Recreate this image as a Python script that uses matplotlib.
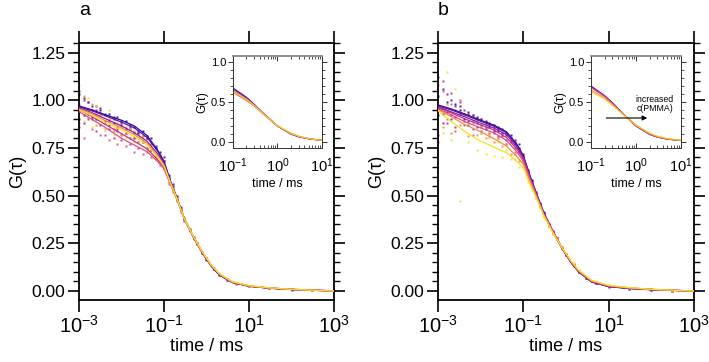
import numpy as np
import matplotlib.pyplot as plt
from matplotlib.ticker import LogLocator, LogFormatterMathtext, MultipleLocator, NullFormatter

plt.rcParams['font.family'] = ['Liberation Sans', 'DejaVu Sans']
plt.rcParams['mathtext.fontset'] = 'custom'
plt.rcParams['mathtext.rm'] = 'Liberation Sans'
plt.rcParams['mathtext.it'] = 'Liberation Sans:italic'

colors = ["#1f0c9c", "#5a0fa6", "#8e1fa0", "#c0308a", "#e0507a", "#f58a45", "#f8e11c"]

# fitted curves, main panels
fit_tau = [1e-3, 2e-3, 4e-3, 1e-2, 2e-2, 4e-2, 7e-2, 0.1, 0.14, 0.2, 0.3, 0.5,
           0.8, 1.3, 2, 4, 10, 30, 100, 1000]
fit_a = [
    [0.97, 0.95, 0.925, 0.895, 0.865, 0.815, 0.74, 0.68, 0.58, 0.49, 0.38, 0.28, 0.20, 0.13, 0.085, 0.045, 0.025, 0.015, 0.008, 0.0],
    [0.965, 0.945, 0.92, 0.885, 0.855, 0.805, 0.735, 0.675, 0.578, 0.49, 0.38, 0.28, 0.20, 0.13, 0.085, 0.045, 0.025, 0.015, 0.008, 0.0],
    [0.96, 0.935, 0.905, 0.865, 0.83, 0.785, 0.72, 0.665, 0.575, 0.488, 0.38, 0.28, 0.20, 0.132, 0.087, 0.046, 0.026, 0.015, 0.008, 0.001],
    [0.95, 0.915, 0.875, 0.825, 0.785, 0.745, 0.69, 0.65, 0.568, 0.485, 0.378, 0.28, 0.202, 0.133, 0.088, 0.047, 0.026, 0.016, 0.009, 0.001],
    [0.94, 0.90, 0.86, 0.80, 0.765, 0.73, 0.68, 0.64, 0.563, 0.482, 0.377, 0.28, 0.203, 0.135, 0.09, 0.048, 0.027, 0.016, 0.009, 0.001],
    [0.955, 0.93, 0.895, 0.855, 0.82, 0.775, 0.71, 0.66, 0.572, 0.487, 0.38, 0.282, 0.204, 0.135, 0.09, 0.048, 0.027, 0.016, 0.009, 0.0],
    [0.95, 0.92, 0.885, 0.845, 0.81, 0.765, 0.705, 0.655, 0.57, 0.486, 0.38, 0.283, 0.205, 0.136, 0.091, 0.049, 0.028, 0.017, 0.009, 0.0],
]
fit_b = [
    [0.975, 0.955, 0.93, 0.895, 0.87, 0.835, 0.77, 0.71, 0.61, 0.515, 0.41, 0.31, 0.225, 0.15, 0.10, 0.047, 0.023, 0.013, 0.007, 0.0],
    [0.97, 0.95, 0.925, 0.89, 0.865, 0.83, 0.765, 0.705, 0.607, 0.513, 0.41, 0.31, 0.225, 0.15, 0.10, 0.048, 0.024, 0.014, 0.007, 0.0],
    [0.965, 0.94, 0.915, 0.88, 0.855, 0.82, 0.755, 0.70, 0.603, 0.51, 0.408, 0.31, 0.226, 0.152, 0.101, 0.049, 0.025, 0.014, 0.007, 0.0],
    [0.96, 0.935, 0.905, 0.87, 0.845, 0.805, 0.745, 0.69, 0.598, 0.507, 0.405, 0.308, 0.227, 0.153, 0.102, 0.05, 0.026, 0.015, 0.008, 0.0],
    [0.955, 0.925, 0.89, 0.855, 0.83, 0.79, 0.73, 0.68, 0.59, 0.503, 0.402, 0.307, 0.227, 0.155, 0.104, 0.052, 0.027, 0.016, 0.008, 0.0],
    [0.95, 0.915, 0.875, 0.835, 0.80, 0.76, 0.705, 0.665, 0.58, 0.497, 0.40, 0.305, 0.228, 0.157, 0.106, 0.054, 0.028, 0.017, 0.009, 0.0],
    [0.945, 0.89, 0.84, 0.785, 0.755, 0.725, 0.68, 0.645, 0.565, 0.49, 0.395, 0.303, 0.228, 0.158, 0.108, 0.056, 0.03, 0.018, 0.009, 0.0],
]

# measured correlation points
dot_tau = [0.001, 0.0013, 0.0016, 0.002, 0.0025, 0.0032, 0.004, 0.005, 0.0065, 0.008,
           0.01, 0.013, 0.016, 0.02, 0.025, 0.032, 0.04, 0.05, 0.065, 0.08, 0.1,
           0.13, 0.16, 0.2, 0.25, 0.3, 0.4, 0.5, 0.6, 0.8, 1.0, 1.5, 2, 3, 5, 10, 30, 100, 300]
dots_a = [
    [1.03, 0.92, 0.99, 0.91, 0.97, 0.95, 0.89, 0.93, 0.88, 0.91, 0.87, 0.89, 0.85, 0.86, 0.83, 0.84, 0.80, 0.80, 0.75, 0.73, 0.70,
     0.61, 0.55, 0.50, 0.43, 0.385, 0.32, 0.285, 0.245, 0.20, 0.17, 0.113, 0.087, 0.058, 0.041, 0.024, 0.016, 0.007, 0.005],
    [0.90, 1.01, 0.93, 0.97, 0.90, 0.96, 0.93, 0.87, 0.91, 0.86, 0.89, 0.85, 0.87, 0.83, 0.84, 0.81, 0.81, 0.77, 0.76, 0.71, 0.68,
     0.60, 0.56, 0.49, 0.44, 0.38, 0.325, 0.28, 0.25, 0.205, 0.165, 0.117, 0.084, 0.061, 0.039, 0.026, 0.014, 0.009, 0.003],
    [1.05, 0.88, 0.99, 0.90, 0.95, 0.87, 0.92, 0.85, 0.90, 0.84, 0.88, 0.83, 0.86, 0.80, 0.83, 0.78, 0.80, 0.74, 0.75, 0.69, 0.68,
     0.59, 0.545, 0.485, 0.43, 0.375, 0.32, 0.278, 0.252, 0.198, 0.172, 0.115, 0.088, 0.06, 0.042, 0.025, 0.015, 0.008, 0.004],
    [0.86, 1.00, 0.90, 0.95, 0.84, 0.92, 0.82, 0.89, 0.80, 0.85, 0.79, 0.83, 0.77, 0.80, 0.75, 0.78, 0.73, 0.74, 0.69, 0.70, 0.64,
     0.57, 0.53, 0.475, 0.42, 0.37, 0.315, 0.275, 0.248, 0.202, 0.17, 0.118, 0.086, 0.062, 0.04, 0.027, 0.016, 0.01, 0.005],
    [0.98, 0.80, 0.95, 0.85, 0.93, 0.82, 0.88, 0.79, 0.85, 0.77, 0.82, 0.76, 0.80, 0.73, 0.78, 0.72, 0.75, 0.70, 0.71, 0.66, 0.65,
     0.56, 0.52, 0.47, 0.415, 0.365, 0.318, 0.28, 0.25, 0.20, 0.173, 0.116, 0.09, 0.061, 0.043, 0.026, 0.017, 0.009, 0.006],
    [0.88, 1.02, 0.91, 0.98, 0.87, 0.94, 0.85, 0.90, 0.84, 0.88, 0.82, 0.86, 0.80, 0.84, 0.78, 0.81, 0.75, 0.77, 0.71, 0.72, 0.66,
     0.585, 0.54, 0.48, 0.43, 0.38, 0.322, 0.282, 0.253, 0.205, 0.171, 0.119, 0.089, 0.063, 0.041, 0.027, 0.016, 0.009, 0.004],
    [1.08, 0.89, 1.01, 0.86, 0.97, 0.92, 0.84, 0.95, 0.82, 0.90, 0.86, 0.80, 0.85, 0.78, 0.82, 0.80, 0.74, 0.76, 0.70, 0.71, 0.67,
     0.58, 0.545, 0.49, 0.425, 0.383, 0.326, 0.285, 0.255, 0.207, 0.175, 0.12, 0.091, 0.062, 0.044, 0.028, 0.017, 0.01, 0.003],
]
dots_b = [
    [1.02, 0.93, 0.99, 0.92, 0.98, 0.95, 0.90, 0.94, 0.89, 0.91, 0.87, 0.89, 0.86, 0.87, 0.84, 0.85, 0.82, 0.82, 0.77, 0.77, 0.72,
     0.635, 0.58, 0.52, 0.455, 0.415, 0.35, 0.31, 0.275, 0.225, 0.19, 0.133, 0.10, 0.068, 0.04, 0.022, 0.012, 0.006, 0.002],
    [0.92, 1.06, 0.94, 1.00, 0.91, 0.97, 0.93, 0.89, 0.92, 0.88, 0.90, 0.86, 0.88, 0.84, 0.86, 0.83, 0.83, 0.80, 0.79, 0.75, 0.71,
     0.63, 0.575, 0.515, 0.46, 0.41, 0.352, 0.308, 0.28, 0.228, 0.188, 0.136, 0.098, 0.07, 0.041, 0.024, 0.014, 0.007, 0.003],
    [1.12, 0.88, 1.03, 0.90, 0.97, 0.93, 0.95, 0.87, 0.92, 0.86, 0.90, 0.85, 0.87, 0.83, 0.85, 0.81, 0.83, 0.78, 0.78, 0.73, 0.71,
     0.62, 0.57, 0.51, 0.455, 0.405, 0.348, 0.312, 0.278, 0.226, 0.192, 0.135, 0.102, 0.069, 0.043, 0.025, 0.013, 0.008, 0.002],
    [0.82, 1.10, 0.88, 1.04, 0.86, 0.99, 0.89, 0.93, 0.85, 0.90, 0.84, 0.88, 0.83, 0.86, 0.81, 0.83, 0.79, 0.80, 0.75, 0.75, 0.69,
     0.615, 0.565, 0.505, 0.45, 0.405, 0.345, 0.31, 0.28, 0.23, 0.19, 0.138, 0.101, 0.071, 0.042, 0.026, 0.015, 0.008, 0.004],
    [0.78, 1.05, 0.90, 0.98, 0.84, 1.00, 0.87, 0.93, 0.82, 0.90, 0.83, 0.88, 0.81, 0.85, 0.80, 0.82, 0.77, 0.79, 0.73, 0.73, 0.68,
     0.60, 0.555, 0.50, 0.445, 0.40, 0.343, 0.305, 0.278, 0.228, 0.194, 0.14, 0.104, 0.072, 0.045, 0.027, 0.016, 0.009, 0.003],
    [1.08, 0.86, 0.98, 0.83, 0.95, 0.87, 0.92, 0.81, 0.88, 0.82, 0.86, 0.80, 0.83, 0.78, 0.80, 0.76, 0.77, 0.72, 0.72, 0.68, 0.67,
     0.59, 0.54, 0.49, 0.44, 0.395, 0.34, 0.302, 0.276, 0.23, 0.195, 0.142, 0.106, 0.074, 0.046, 0.028, 0.017, 0.009, 0.002],
    [1.29, 0.83, 1.15, 0.79, 1.06, 0.47, 0.92, 0.78, 0.89, 0.74, 0.83, 0.72, 0.80, 0.71, 0.78, 0.70, 0.74, 0.69, 0.69, 0.65, 0.65,
     0.57, 0.53, 0.485, 0.435, 0.39, 0.338, 0.30, 0.275, 0.23, 0.197, 0.145, 0.108, 0.075, 0.048, 0.03, 0.018, 0.01, 0.005],
]

# inset curves
inset_tau = [0.1, 0.2, 0.3, 0.5, 1, 2, 3, 5, 10]
inset_colors = ["#1f0c9c", "#8e1fa0", "#e0507a", "#f58a45", "#f8c81c"]
inset_a = [
    [0.675, 0.56, 0.47, 0.35, 0.20, 0.10, 0.065, 0.04, 0.02],
    [0.66, 0.55, 0.465, 0.35, 0.20, 0.10, 0.066, 0.04, 0.02],
    [0.62, 0.52, 0.45, 0.34, 0.20, 0.105, 0.07, 0.042, 0.02],
    [0.64, 0.54, 0.46, 0.345, 0.20, 0.105, 0.07, 0.042, 0.02],
    [0.63, 0.53, 0.455, 0.345, 0.205, 0.11, 0.072, 0.044, 0.022],
]
inset_b = [
    [0.70, 0.58, 0.49, 0.36, 0.20, 0.095, 0.06, 0.035, 0.018],
    [0.69, 0.575, 0.485, 0.36, 0.20, 0.097, 0.062, 0.036, 0.018],
    [0.68, 0.57, 0.48, 0.36, 0.205, 0.10, 0.064, 0.038, 0.019],
    [0.65, 0.55, 0.47, 0.355, 0.21, 0.105, 0.068, 0.04, 0.02],
    [0.63, 0.54, 0.46, 0.35, 0.21, 0.11, 0.072, 0.043, 0.022],
]


def style_main(ax):
    ax.set_xscale('log')
    ax.set_xlim(1e-3, 1e3)
    ax.set_ylim(-0.047, 1.30)
    ax.set_xticks([1e-3, 1e-1, 1e1, 1e3])
    ax.xaxis.set_major_formatter(LogFormatterMathtext())
    ax.xaxis.set_minor_formatter(NullFormatter())
    ax.tick_params(axis='x', which='minor', length=0)
    ax.yaxis.set_major_locator(MultipleLocator(0.25))
    ax.yaxis.set_minor_locator(MultipleLocator(0.05))
    ax.yaxis.set_major_formatter(plt.FormatStrFormatter('%.2f'))
    ax.tick_params(which='major', direction='out', length=7.7, width=1.2,
                   top=True, right=True, labelsize=12.5, pad=2)
    ax.tick_params(axis='x', which='major', length=8.5, labelsize=14.5, pad=2)
    ax.tick_params(which='minor', direction='out', length=4, width=1.0, right=True)
    for s in ax.spines.values():
        s.set_linewidth(1.3)
    ax.set_xlabel('time / ms', fontsize=13, labelpad=1)
    ax.set_ylabel('G(τ)', fontsize=13, labelpad=4)


def style_inset(ax):
    ax.set_xscale('log')
    ax.set_xlim(0.1, 10)
    ax.set_ylim(-0.075, 1.075)
    ax.set_xticks([0.1, 1, 10])
    ax.xaxis.set_major_formatter(LogFormatterMathtext())
    ax.xaxis.set_minor_locator(LogLocator(base=10, subs=np.arange(2, 10), numticks=10))
    ax.xaxis.set_minor_formatter(NullFormatter())
    ax.yaxis.set_major_locator(MultipleLocator(0.5))
    ax.yaxis.set_minor_locator(MultipleLocator(0.1))
    ax.tick_params(which='major', direction='out', length=3.5, width=0.7,
                   top=True, right=True, labelsize=8, pad=1.5, color='#333333')
    ax.tick_params(which='minor', direction='out', length=2, width=0.6,
                   top=True, right=True, color='#333333')
    ax.tick_params(axis='x', which='both', bottom=True, direction='in')
    ax.tick_params(axis='x', which='major', labelsize=10.5, pad=6)
    for s in ax.spines.values():
        s.set_linewidth(0.7)
        s.set_color('#333333')
    ax.spines['top'].set_color('#888888')
    ax.spines['top'].set_linewidth(1.3)
    ax.set_xlabel('time / ms', fontsize=9, labelpad=2)
    ax.set_ylabel('G(τ)', fontsize=8.5, labelpad=2)


fig = plt.figure(figsize=(7.09, 3.62), dpi=100)
ax_a = fig.add_axes([0.1114, 0.1713, 0.3597, 0.710])
ax_b = fig.add_axes([0.6178, 0.1713, 0.3611, 0.710])
in_a = fig.add_axes([0.3286, 0.5912, 0.1255, 0.254])
in_b = fig.add_axes([0.8336, 0.5912, 0.1269, 0.254])

for ax, fits, dots in [(ax_a, fit_a, dots_a), (ax_b, fit_b, dots_b)]:
    for c, d in zip(colors, dots):
        ax.plot(dot_tau, d, 's', ms=1.6, mec='none', color=c, alpha=0.9, zorder=2)
    for c, f in zip(colors, fits):
        ax.plot(fit_tau, f, '-', lw=0.9, color=c, zorder=3)
    style_main(ax)

for ax, curves in [(in_a, inset_a), (in_b, inset_b)]:
    for c, g in zip(inset_colors, curves):
        ax.plot(inset_tau, g, '-', lw=0.8, color=c)
    style_inset(ax)

in_b.annotate('', xy=(2.05, 0.30), xytext=(0.19, 0.30),
              arrowprops=dict(arrowstyle='-|>', color='black', lw=0.8,
                              mutation_scale=7))
in_b.text(2.6, 0.475, 'increased\nc(PMMA)', fontsize=6.3, ha='center', va='center',
          linespacing=1.1)

fig.text(79 / 709, 1 - 15 / 362, 'a', fontsize=14, ha='left', va='baseline')
fig.text(438 / 709, 1 - 15 / 362, 'b', fontsize=14, ha='left', va='baseline')

fig.savefig('out.png', dpi=100)
